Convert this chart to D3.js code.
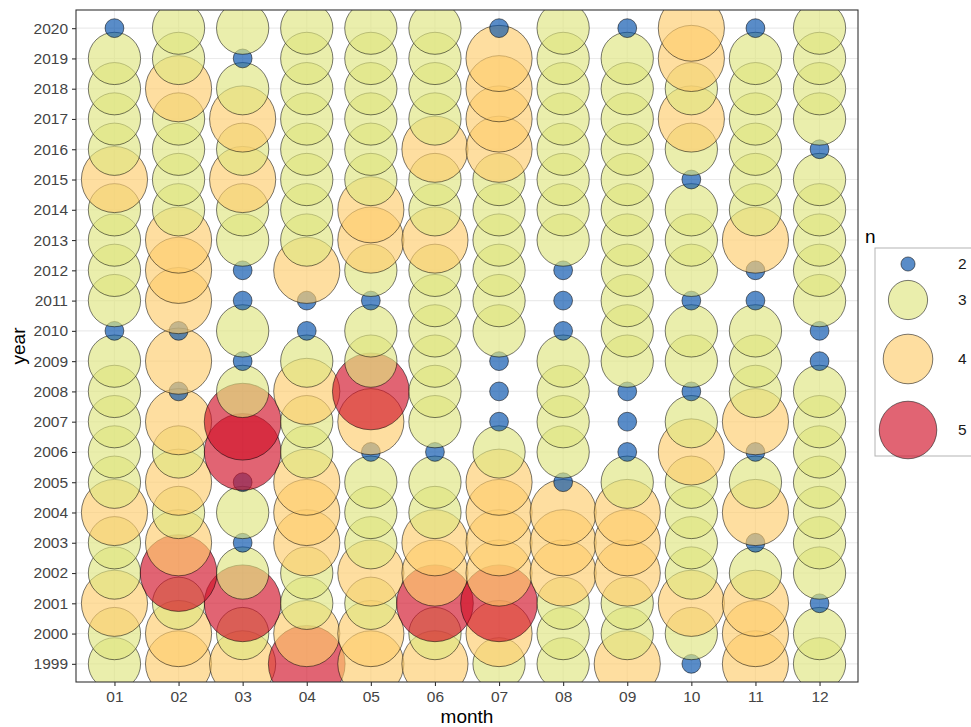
<!DOCTYPE html>
<html>
<head>
<meta charset="utf-8">
<script src="https://cdn.jsdelivr.net/npm/d3@7"></script>
<style>
    body { margin: 0; background: #fff; }
    svg { font-family: "Liberation Sans", Arial, sans-serif; }
</style>
</head>
<body>
<div id="chart"></div>
<script>

var months = ["01", "02", "03", "04", "05", "06", "07", "08", "09", "10", "11", "12"];
// years top to bottom, the n arrays below follow this order
var years = [2020, 2019, 2018, 2017, 2016, 2015, 2014, 2013, 2012, 2011, 2010,
    2009, 2008, 2007, 2006, 2005, 2004, 2003, 2002, 2001, 2000, 1999];

var n01 = [2, 3, 3, 3, 3, 4, 3, 3, 3, 3, 2, 3, 3, 3, 3, 3, 4, 3, 3, 4, 3, 3];
var n02 = [3, 3, 4, 3, 3, 3, 3, 4, 4, 4, 2, 4, 2, 4, 3, 4, 3, 4, 5, 3, 4, 4];
var n03 = [3, 2, 3, 4, 3, 4, 3, 3, 2, 2, 3, 2, 3, 5, 5, 2, 3, 2, 3, 5, 3, 4];
var n04 = [3, 3, 3, 3, 3, 3, 3, 3, 4, 2, 2, 3, 4, 3, 3, 4, 4, 4, 3, 3, 4, 5];
var n05 = [3, 3, 3, 3, 3, 3, 4, 4, 3, 2, 3, 3, 5, 4, 2, 3, 3, 3, 4, 3, 4, 4];
var n06 = [3, 3, 3, 3, 4, 3, 3, 4, 3, 3, 3, 3, 3, 3, 2, 3, 3, 4, 4, 5, 3, 4];
var n07 = [2, 4, 4, 4, 4, 3, 3, 3, 3, 3, 3, 2, 2, 2, 3, 4, 4, 4, 4, 5, 4, 3];
var n08 = [3, 3, 3, 3, 3, 3, 3, 3, 2, 2, 2, 3, 3, 3, 3, 2, 4, 4, 4, 3, 3, 3];
var n09 = [2, 3, 3, 3, 3, 3, 3, 3, 3, 3, 3, 3, 2, 2, 2, 3, 4, 4, 4, 3, 3, 4];
var n10 = [4, 4, 3, 4, 3, 2, 3, 3, 3, 2, 3, 3, 2, 3, 4, 3, 3, 3, 3, 4, 3, 2];
var n11 = [2, 3, 3, 3, 3, 3, 3, 4, 2, 2, 3, 3, 3, 4, 2, 3, 4, 2, 3, 4, 4, 4];
var n12 = [3, 3, 3, 3, 2, 3, 3, 3, 3, 3, 2, 2, 3, 3, 3, 3, 3, 3, 3, 2, 3, 3];

var nLevels = [2, 3, 4, 5];
var nColors = ["#004eaa", "#dfe57f", "#fdcc6d", "#d11128"];

var byMonth = [n01, n02, n03, n04, n05, n06, n07, n08, n09, n10, n11, n12];

// long table, drawn oldest year first so later years sit on top
var data = [];
years.slice().reverse().forEach(function (yr) {
    var row = years.indexOf(yr);
    months.forEach(function (m, i) {
        data.push({ month: m, year: yr, n: byMonth[i][row] });
    });
});

var W = 971, H = 727;
var panel = { left: 76, top: 10, right: 858, bottom: 682 };
var alpha = 0.65;

var svg = d3.select("#chart").append("svg")
    .attr("width", W)
    .attr("height", H);

var x = d3.scalePoint().domain(months).range([panel.left, panel.right]).padding(0.6);
var y = d3.scalePoint().domain(years).range([panel.top, panel.bottom]).padding(0.6);

// ggplot area scale: radius grows with sqrt of rescaled n
var r = d3.scalePow().exponent(0.5).domain([0, 3]).range([9.4, 38.4]);
var color = d3.scaleOrdinal().domain(nLevels).range(nColors);

svg.append("defs").append("clipPath")
    .attr("id", "clip")
    .append("rect")
    .attr("x", panel.left)
    .attr("y", panel.top)
    .attr("width", panel.right - panel.left)
    .attr("height", panel.bottom - panel.top);

// grid
var grid = svg.append("g");
grid.selectAll(".gx").data(months).enter().append("line")
    .attr("x1", function (d) { return x(d); })
    .attr("x2", function (d) { return x(d); })
    .attr("y1", panel.top).attr("y2", panel.bottom)
    .attr("stroke", "#ebebeb").attr("stroke-width", 1.1);
grid.selectAll(".gy").data(years).enter().append("line")
    .attr("y1", function (d) { return y(d); })
    .attr("y2", function (d) { return y(d); })
    .attr("x1", panel.left).attr("x2", panel.right)
    .attr("stroke", "#ebebeb").attr("stroke-width", 1.1);

svg.append("g")
    .attr("clip-path", "url(#clip)")
    .selectAll("circle")
    .data(data)
    .enter().append("circle")
    .attr("cx", function (d) { return x(d.month); })
    .attr("cy", function (d) { return y(d.year); })
    .attr("r", function (d) { return r(d.n - 2); })
    .attr("fill", function (d) { return color(d.n); })
    .attr("fill-opacity", alpha)
    .attr("stroke", "#000")
    .attr("stroke-opacity", 0.75)
    .attr("stroke-width", 0.7);

svg.append("rect")
    .attr("x", panel.left).attr("y", panel.top)
    .attr("width", panel.right - panel.left)
    .attr("height", panel.bottom - panel.top)
    .attr("fill", "none")
    .attr("stroke", "#333").attr("stroke-width", 1.1);

// axes
var xAxis = svg.append("g")
    .attr("transform", "translate(0," + panel.bottom + ")")
    .call(d3.axisBottom(x).tickSize(4).tickSizeOuter(0).tickPadding(5));
var yAxis = svg.append("g")
    .attr("transform", "translate(" + panel.left + ",0)")
    .call(d3.axisLeft(y).tickSize(4).tickSizeOuter(0).tickPadding(4));

[xAxis, yAxis].forEach(function (a) {
    a.select(".domain").remove();
    a.selectAll(".tick line").attr("stroke", "#333").attr("stroke-width", 1.1);
    a.selectAll(".tick text")
        .attr("fill", "#444")
        .style("font-size", "15.5px")
        .style("font-family", "'Liberation Sans', Arial, sans-serif");
});

svg.append("text")
    .attr("x", (panel.left + panel.right) / 2)
    .attr("y", 723)
    .attr("text-anchor", "middle")
    .style("font-size", "19px")
    .text("month");

svg.append("text")
    .attr("transform", "translate(25," + ((panel.top + panel.bottom) / 2) + ") rotate(-90)")
    .attr("text-anchor", "middle")
    .style("font-size", "19px")
    .text("year");

// legend
var legend = svg.append("g");
legend.append("text")
    .attr("x", 865).attr("y", 243)
    .style("font-size", "19px")
    .text("n");
legend.append("rect")
    .attr("x", 875).attr("y", 248)
    .attr("width", 120).attr("height", 208)
    .attr("fill", "#fff")
    .attr("stroke", "#b3b3b3").attr("stroke-width", 1);

var keyY = d3.scaleOrdinal().domain(nLevels).range([264, 300, 359, 430]);

legend.selectAll(".key").data(nLevels).enter().append("circle")
    .attr("cx", 908)
    .attr("cy", function (d) { return keyY(d); })
    .attr("r", function (d) { return r(d - 2) * 0.75; })
    .attr("fill", function (d) { return color(d); })
    .attr("fill-opacity", alpha)
    .attr("stroke", "#000")
    .attr("stroke-opacity", 0.75)
    .attr("stroke-width", 0.7);

legend.selectAll(".lab").data(nLevels).enter().append("text")
    .attr("x", 958)
    .attr("y", function (d) { return keyY(d); })
    .attr("dy", "0.35em")
    .style("font-size", "15.5px")
    .attr("fill", "#1a1a1a")
    .text(function (d) { return d; });

</script>
</body>
</html>
